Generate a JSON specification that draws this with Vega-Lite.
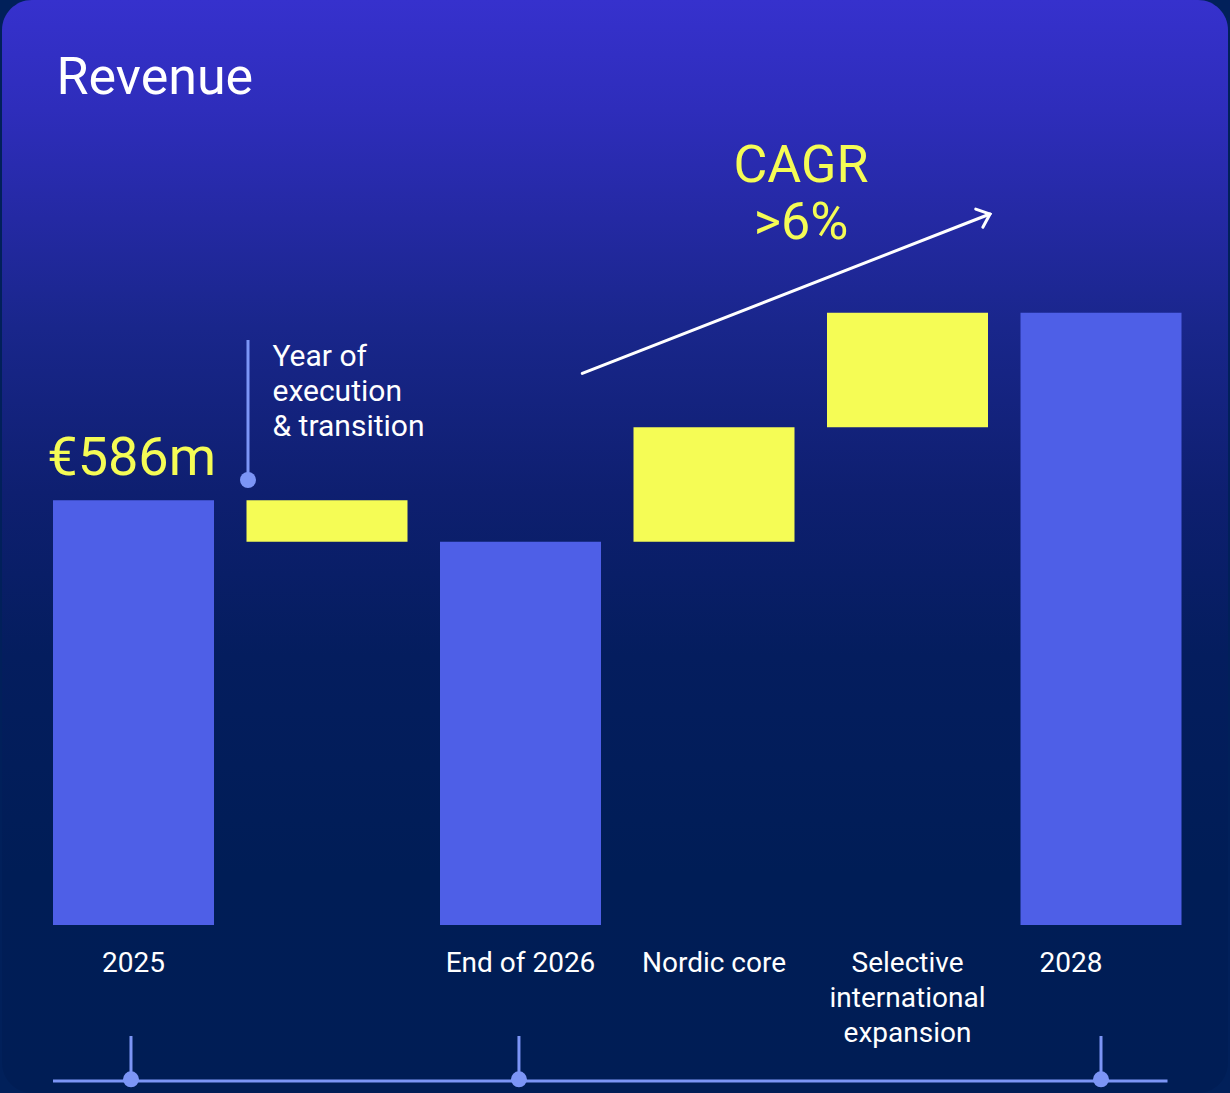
{
  "$schema": "https://vega.github.io/schema/vega-lite/v6.json",
  "width": 1230,
  "height": 1093,
  "autosize": {"type": "fit", "contains": "padding"},
  "padding": {"left": 2, "right": 2, "top": 0, "bottom": 0},
  "background": "#01205a",
  "config": {
    "view": {
      "stroke": null,
      "cornerRadius": 30,
      "fill": {
        "gradient": "linear",
        "x1": 0, "y1": 0, "x2": 0, "y2": 1,
        "stops": [
          {"offset": 0, "color": "#3631cd"},
          {"offset": 0.1, "color": "#2e2dbb"},
          {"offset": 0.2, "color": "#2429a3"},
          {"offset": 0.3, "color": "#19268b"},
          {"offset": 0.45, "color": "#0e1f70"},
          {"offset": 0.6, "color": "#041d5e"},
          {"offset": 0.8, "color": "#001d56"},
          {"offset": 1, "color": "#001d55"}
        ]
      }
    }
  },
  "datasets": {
    "bars": [
      {"slot": 0, "label": "2025", "kind": "total", "start": 0, "end": 586},
      {"slot": 1, "label": "", "kind": "change", "start": 586, "end": 529},
      {"slot": 2, "label": "End of 2026", "kind": "total", "start": 0, "end": 529},
      {"slot": 3, "label": "Nordic core", "kind": "change", "start": 529, "end": 687},
      {"slot": 4, "label": "Selective\ninternational\nexpansion", "kind": "change", "start": 687, "end": 845},
      {"slot": 5, "label": "2028", "kind": "total", "start": 0, "end": 845}
    ],
    "guides": [
      {"x": 0.5917, "x2": 0.5917, "y": 807.3, "y2": 614.1},
      {"x": -0.416, "x2": 5.3437, "y": -215.3, "y2": -215.3},
      {"x": -0.013, "x2": -0.013, "y": -153.2, "y2": -215.3},
      {"x": 1.992, "x2": 1.992, "y": -153.2, "y2": -215.3},
      {"x": 5.0, "x2": 5.0, "y": -153.2, "y2": -215.3}
    ],
    "dots": [
      {"x": 0.5917, "y": 614.1},
      {"x": -0.013, "y": -213},
      {"x": 1.992, "y": -213},
      {"x": 5.0, "y": -213}
    ],
    "arrow": [
      {"x": 2.3194, "y": 761.3, "x2": 4.4264, "y2": 981.2}
    ]
  },
  "layer": [
    {
      "data": {"name": "bars"},
      "mark": {"type": "bar", "width": 161},
      "encoding": {
        "x": {"field": "slot", "type": "quantitative", "scale": {"domain": [-0.67959, 5.65633], "nice": false, "zero": false, "padding": 0}, "axis": null},
        "y": {"field": "start", "type": "quantitative", "scale": {"domain": [-231.84, 1276.5], "nice": false, "zero": false, "padding": 0}, "axis": null},
        "y2": {"field": "end"},
        "color": {"field": "kind", "type": "nominal", "scale": {"domain": ["total", "change"], "range": ["#4e5fe7", "#f5fc55"]}, "legend": null}
      }
    },
    {
      "data": {"name": "bars"},
      "transform": [{"filter": "datum.slot != 5"}],
      "mark": {"type": "text", "font": "Roboto", "fontSize": 28, "lineHeight": 35, "lineBreak": "\n", "color": "#ffffff", "align": "center", "baseline": "alphabetic"},
      "encoding": {
        "x": {"field": "slot", "type": "quantitative"},
        "y": {"datum": -64.9, "type": "quantitative"},
        "text": {"field": "label"}
      }
    },
    {
      "data": {"name": "bars"},
      "transform": [{"filter": "datum.slot == 5"}],
      "mark": {"type": "text", "font": "Roboto", "fontSize": 28, "lineHeight": 35, "lineBreak": "\n", "color": "#ffffff", "align": "center", "baseline": "alphabetic", "dx": -30},
      "encoding": {
        "x": {"field": "slot", "type": "quantitative"},
        "y": {"datum": -64.9, "type": "quantitative"},
        "text": {"field": "label"}
      }
    },
    {
      "data": {"name": "guides"},
      "mark": {"type": "rule", "color": "#7c95f6", "strokeWidth": 3},
      "encoding": {
        "x": {"field": "x", "type": "quantitative"},
        "x2": {"field": "x2"},
        "y": {"field": "y", "type": "quantitative"},
        "y2": {"field": "y2"}
      }
    },
    {
      "data": {"name": "dots"},
      "mark": {"type": "point", "shape": "circle", "filled": true, "size": 256, "color": "#7c95f6", "opacity": 1},
      "encoding": {
        "x": {"field": "x", "type": "quantitative"},
        "y": {"field": "y", "type": "quantitative"}
      }
    },
    {
      "data": {"name": "arrow"},
      "mark": {"type": "rule", "color": "#ffffff", "strokeWidth": 3, "strokeCap": "round"},
      "encoding": {
        "x": {"field": "x", "type": "quantitative"},
        "x2": {"field": "x2"},
        "y": {"field": "y", "type": "quantitative"},
        "y2": {"field": "y2"}
      }
    },
    {
      "data": {"name": "arrow"},
      "mark": {"type": "point", "shape": "M-1,-0.85L0,0L-1,0.85", "filled": false, "size": 529, "stroke": "#ffffff", "strokeWidth": 3, "strokeCap": "round", "strokeJoin": "miter", "opacity": 1, "angle": -21.3},
      "encoding": {
        "x": {"field": "x2", "type": "quantitative"},
        "y": {"field": "y2", "type": "quantitative"}
      }
    },
    {
      "data": {"values": [{"x": -0.398, "y": 1146.4, "text": "Revenue"}]},
      "mark": {"type": "text", "font": "Roboto", "fontSize": 52, "color": "#ffffff", "align": "left", "baseline": "alphabetic"},
      "encoding": {
        "x": {"field": "x", "type": "quantitative"},
        "y": {"field": "y", "type": "quantitative"},
        "text": {"field": "text"}
      }
    },
    {
      "data": {"values": [{"x": -0.0093, "y": 621, "text": "€586m"}]},
      "mark": {"type": "text", "font": "Roboto", "fontSize": 54, "color": "#f5fc55", "align": "center", "baseline": "alphabetic"},
      "encoding": {
        "x": {"field": "x", "type": "quantitative"},
        "y": {"field": "y", "type": "quantitative"},
        "text": {"field": "text"}
      }
    },
    {
      "data": {"values": [{"x": 3.4496, "y": 1024.9, "text": "CAGR\n>6%"}]},
      "mark": {"type": "text", "font": "Roboto", "fontSize": 52, "lineHeight": 57, "lineBreak": "\n", "color": "#f5fc55", "align": "center", "baseline": "alphabetic"},
      "encoding": {
        "x": {"field": "x", "type": "quantitative"},
        "y": {"field": "y", "type": "quantitative"},
        "text": {"field": "text"}
      }
    },
    {
      "data": {"values": [{"x": 0.7184, "y": 771.0, "text": "Year of\nexecution\n& transition"}]},
      "mark": {"type": "text", "font": "Roboto", "fontSize": 30, "lineHeight": 34.7, "lineBreak": "\n", "color": "#ffffff", "align": "left", "baseline": "alphabetic"},
      "encoding": {
        "x": {"field": "x", "type": "quantitative"},
        "y": {"field": "y", "type": "quantitative"},
        "text": {"field": "text"}
      }
    }
  ]
}
